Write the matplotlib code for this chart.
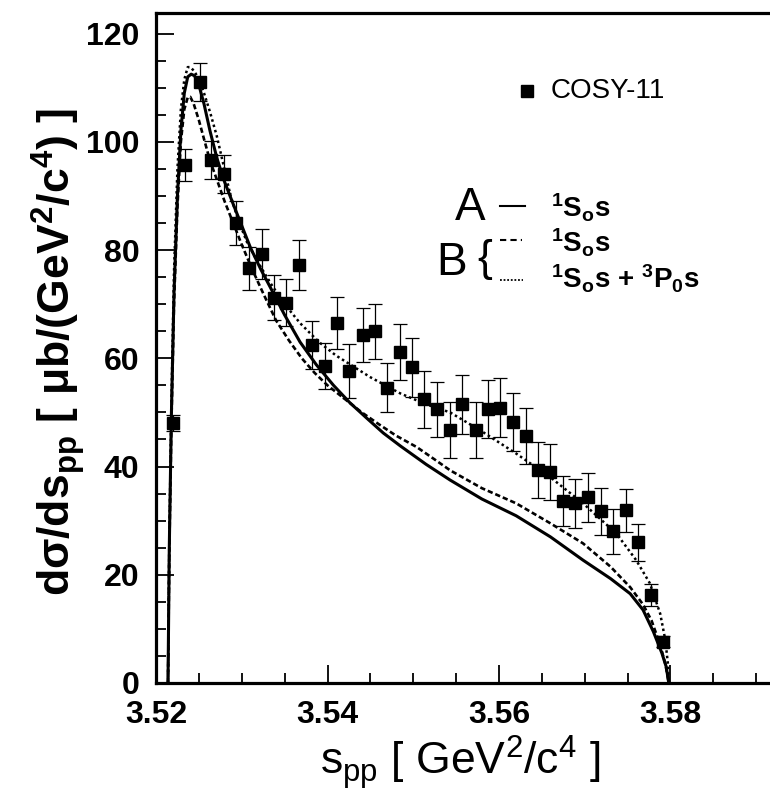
import matplotlib.pyplot as plt
from matplotlib.lines import Line2D
from matplotlib.ticker import MultipleLocator

plt.rcParams['font.family'] = ['Liberation Sans', 'DejaVu Sans']
plt.rcParams['mathtext.fontset'] = 'custom'
plt.rcParams['mathtext.rm'] = 'Liberation Sans'
plt.rcParams['mathtext.bf'] = 'Liberation Sans:bold'

# COSY-11 data points
s_pp = [3.5220, 3.5234, 3.5251, 3.5264, 3.5279, 3.5293, 3.5309, 3.5324, 3.5338, 3.5352,
        3.5367, 3.5382, 3.5397, 3.5411, 3.5425, 3.5441, 3.5455, 3.5469, 3.5485, 3.5499,
        3.5513, 3.5528, 3.5543, 3.5557, 3.5573, 3.5587, 3.5601, 3.5616, 3.5631, 3.5646,
        3.5660, 3.5675, 3.5689, 3.5704, 3.5719, 3.5733, 3.5748, 3.5762, 3.5777, 3.5791]
dsig = [48.0, 95.7, 111.0, 96.6, 94.0, 85.0, 76.6, 79.2, 71.2, 70.3,
        77.2, 62.4, 58.6, 66.5, 57.7, 64.3, 65.0, 54.6, 61.2, 58.3,
        52.4, 50.6, 46.7, 51.5, 46.7, 50.6, 50.9, 48.2, 45.7, 39.3,
        39.0, 33.6, 33.2, 34.3, 31.7, 28.0, 31.9, 26.0, 16.3, 7.6]
dsig_err = [1.5, 2.9, 3.5, 3.5, 3.5, 4.0, 4.0, 4.6, 4.2, 4.4,
            4.6, 4.4, 4.3, 4.8, 5.0, 5.0, 5.1, 4.6, 5.2, 5.5,
            5.2, 5.1, 5.2, 5.4, 5.2, 5.4, 5.4, 5.3, 5.2, 5.2,
            5.1, 4.6, 4.5, 4.5, 4.4, 4.2, 4.0, 3.4, 2.0, 1.0]

# A: 1S0s (solid)
a_s = [3.5214, 3.52155, 3.5218, 3.5221, 3.5225, 3.5229, 3.5233, 3.5237, 3.5241, 3.5245,
       3.5250, 3.5256, 3.5263, 3.5271, 3.5279, 3.5290, 3.5300, 3.5310, 3.5322, 3.5333,
       3.5350, 3.5368, 3.5387, 3.5407, 3.5426, 3.5446, 3.5465, 3.5485, 3.5515, 3.5543,
       3.5580, 3.5620, 3.5660, 3.5698, 3.5730, 3.5753, 3.5768, 3.5780, 3.5790, 3.5795, 3.5798]
a_val = [0, 25, 50, 72, 90, 102, 109, 112, 112.5, 112.2,
         110.5, 107, 102, 97, 93, 88.5, 84.5, 80.5, 76.5, 73.2,
         68, 63, 58.8, 55, 51.8, 48.9, 46.2, 43.8, 40.4, 37.5,
         34.0, 30.9, 27.0, 22.7, 19.3, 16.5, 13.5, 9.5, 5.5, 3.0, 0]

# B: 1S0s (dashed)
b1_s = [3.5214, 3.52155, 3.5218, 3.5221, 3.5225, 3.5229, 3.5233, 3.5237, 3.5240, 3.5244,
        3.5250, 3.5256, 3.5263, 3.5271, 3.5280, 3.5290, 3.5300, 3.5312, 3.5325, 3.5340,
        3.5355, 3.5370, 3.5385, 3.5400, 3.5420, 3.5440, 3.5460, 3.5480, 3.5504, 3.5525,
        3.5543, 3.5580, 3.5620, 3.5660, 3.5698, 3.5730, 3.5753, 3.5768, 3.5778, 3.5788, 3.5794, 3.5798]
b1_val = [0, 24, 48, 70, 88, 100, 106, 108.2, 108.3, 107,
          104, 100.5, 96.5, 93, 89, 85, 81, 76.5, 72, 67,
          63.3, 60, 57.3, 55, 52.5, 50, 47.8, 45.7, 43.6, 41.3,
          39.3, 36.0, 33.2, 29.5, 25.8, 21.5, 17.7, 14.5, 11.5, 7.0, 3.5, 0]

# B: 1S0s + 3P0s (dotted)
b2_s = [3.5214, 3.52155, 3.5218, 3.5221, 3.5225, 3.5229, 3.5233, 3.5237, 3.5240, 3.5245,
        3.5250, 3.5256, 3.5263, 3.5271, 3.5279, 3.5287, 3.5296, 3.5306, 3.5318, 3.5333,
        3.5350, 3.5368, 3.5390, 3.5410, 3.5425, 3.5450, 3.5485, 3.5515, 3.5543, 3.5580,
        3.5620, 3.5660, 3.5698, 3.5737, 3.5760, 3.5776, 3.5788, 3.5794, 3.5797, 3.5798]
b2_val = [0, 26, 52, 76, 95, 106, 111.5, 113.8, 113.8, 113,
          111.5, 109, 105.5, 101, 95.5, 90, 85.5, 81.5, 78, 74,
          70, 66.5, 63, 60.5, 59, 56.5, 53.5, 51.5, 50, 46.5,
          42.4, 38, 33.2, 27.6, 22.7, 18.4, 12.8, 7.9, 3.5, 0]

W, H = 770, 797
fig = plt.figure(figsize=(W / 100, H / 100), dpi=100)
ax = fig.add_axes([156 / W, 114 / H, (W - 156) / W, (683 - 13) / H])

ax.plot(a_s, a_val, color='black', lw=2.2, ls='-')
ax.plot(b1_s, b1_val, color='black', lw=1.9, ls=(0, (2, 1.1)))
ax.plot(b2_s, b2_val, color='black', lw=1.8, ls=(0, (1, 1.2)))
ax.errorbar(s_pp, dsig, yerr=dsig_err, fmt='s', color='black', ms=8,
            elinewidth=0.9, capsize=5, capthick=0.9)

ax.set_xlim(3.52, 3.52 + (W - 156) / 8575)
ax.set_ylim(0, 123.8)
ax.xaxis.set_major_locator(MultipleLocator(0.02))
ax.xaxis.set_minor_locator(MultipleLocator(0.005))
ax.yaxis.set_major_locator(MultipleLocator(20))
ax.yaxis.set_minor_locator(MultipleLocator(5))
ax.xaxis.set_major_formatter(plt.FuncFormatter(lambda v, p: f'{v:.2f}'))
ax.tick_params(which='both', direction='in', top=False, right=False, width=1.3)
ax.tick_params(which='major', length=13, labelsize=23, pad=12)
ax.tick_params(which='minor', length=7)
for lab in ax.get_xticklabels() + ax.get_yticklabels():
    lab.set_fontweight('bold')
for sp in ['left', 'bottom', 'top']:
    ax.spines[sp].set_linewidth(2.3)
ax.spines['right'].set_visible(False)

ax.set_xlabel(r's$\mathregular{_{pp}}$ [ GeV$\mathregular{^2}$/c$\mathregular{^4}$ ]', fontsize=32)
ax.set_ylabel(r'dσ/ds$\mathregular{_{pp}}$ [ μb/(GeV$\mathregular{^2}$/c$\mathregular{^4}$) ]',
              fontsize=32, fontweight='bold')
ax.xaxis.set_label_coords(0.495, -0.075)
ax.yaxis.set_label_coords(-0.112, 0.494)

# legend block
def fx(px):
    return px / W

def fy(py):
    return 1 - py / H

fig.add_artist(Line2D([fx(527)], [fy(91)], marker='s', ms=8.5, color='black'))
fig.text(fx(551), fy(91), 'COSY-11', fontsize=20, va='center', ha='left')

fig.text(fx(470), fy(208), 'A', fontsize=33, va='center', ha='center')
fig.text(fx(452), fy(263), 'B', fontsize=33, va='center', ha='center')
fig.text(fx(485), fy(260), '{', fontsize=32, va='center', ha='center')
fig.add_artist(Line2D([fx(500), fx(525)], [fy(206)] * 2, color='black', lw=1.5))
fig.add_artist(Line2D([fx(500), fx(522)], [fy(240)] * 2, color='black', lw=1.5, ls=(0, (3, 2))))
fig.add_artist(Line2D([fx(500), fx(523)], [fy(280)] * 2, color='black', lw=1.3, ls=(0, (1, 1))))
lab_s = r'$\mathregular{^1S_os}$'
fig.text(fx(551), fy(208), lab_s, fontsize=20, fontweight='bold', va='center', ha='left')
fig.text(fx(551), fy(243), lab_s, fontsize=20, fontweight='bold', va='center', ha='left')
fig.text(fx(551), fy(279), r'$\mathregular{^1S_os}$ + $\mathregular{^3P_0s}$', fontsize=20,
         fontweight='bold', va='center', ha='left')

fig.savefig('out.png', dpi=100)
